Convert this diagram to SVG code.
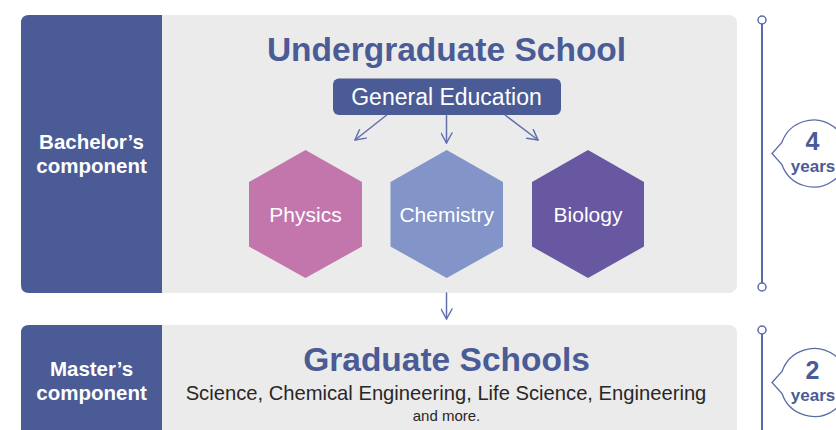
<svg xmlns="http://www.w3.org/2000/svg" width="836" height="430" viewBox="0 0 836 430">
<style>
.panel{fill:#4A5B96}
.bg{fill:#EBEBEB}
.side{font-family:"Liberation Sans",Arial,sans-serif;font-weight:bold;font-size:20.5px;fill:#FFFFFF;text-anchor:middle}
.title{font-family:"Liberation Sans",Arial,sans-serif;font-weight:bold;font-size:33.5px;fill:#4A5B96;text-anchor:middle}
.hex{font-family:"Liberation Sans",Arial,sans-serif;font-size:21px;fill:#FFFFFF;text-anchor:middle}
.sub{font-family:"Liberation Sans",Arial,sans-serif;font-size:20.2px;fill:#2A2627;text-anchor:middle}
.small{font-family:"Liberation Sans",Arial,sans-serif;font-size:15px;fill:#2A2627;text-anchor:middle}
.num{font-family:"Liberation Sans",Arial,sans-serif;font-weight:bold;font-size:25px;fill:#4A5B96;text-anchor:middle}
.yrs{font-family:"Liberation Sans",Arial,sans-serif;font-weight:bold;font-size:17px;fill:#4A5B96;text-anchor:middle}
.conn{fill:none;stroke:#6070AC;stroke-width:1.5;stroke-linecap:round;stroke-linejoin:round}
.tl{fill:none;stroke:#5A6BA8;stroke-width:2}
.dot{fill:#FFFFFF;stroke:#5A6BA8;stroke-width:1.5}
.bubble{fill:#FFFFFF;stroke:#5A6BA8;stroke-width:1.3}
</style>
<defs>
<marker id="ah" viewBox="0 0 12 12" refX="11" refY="6" markerWidth="12" markerHeight="12" markerUnits="userSpaceOnUse" orient="auto">
<path d="M1 0.5 L11 6 L1 11.5" fill="none" stroke="#6070AC" stroke-width="1.5" stroke-linecap="round" stroke-linejoin="round"/>
</marker>
</defs>

<g id="undergraduate">
<rect class="bg" x="21" y="15" width="716" height="278" rx="8"/>
<path class="panel" d="M162 15 L29 15 Q21 15 21 23 L21 285 Q21 293 29 293 L162 293 Z"/>
<text class="side" x="91.5" y="149">Bachelor’s</text>
<text class="side" x="91.5" y="173">component</text>
<text class="title" x="446.5" y="61">Undergraduate School</text>
</g>

<g id="general-education">
<rect class="panel" x="333" y="78.5" width="228" height="36.5" rx="6"/>
<text x="446.5" y="105" font-family="'Liberation Sans',Arial,sans-serif" font-size="23" fill="#FFFFFF" text-anchor="middle">General Education</text>
</g>

<g id="physics">
<polygon points="305.5,150 362,182 362,246.5 305.5,278 249,246.5 249,182" fill="#C376AC"/>
<text class="hex" x="305.5" y="222">Physics</text>
</g>
<g id="chemistry">
<polygon points="446.7,150 503,182 503,246.5 446.7,278 390.5,246.5 390.5,182" fill="#8294C8"/>
<text class="hex" x="446.7" y="222">Chemistry</text>
</g>
<g id="biology">
<polygon points="588,150 644,182 644,246.5 588,278 532,246.5 532,182" fill="#6858A2"/>
<text class="hex" x="588" y="222">Biology</text>
</g>

<g id="graduate">
<rect class="bg" x="21" y="325" width="716" height="130" rx="8"/>
<path class="panel" d="M162 325 L29 325 Q21 325 21 333 L21 455 L162 455 Z"/>
<text class="side" x="91.5" y="376">Master’s</text>
<text class="side" x="91.5" y="400">component</text>
<text class="title" x="446.5" y="371">Graduate Schools</text>
<text class="sub" x="446" y="400">Science, Chemical Engineering, Life Science, Engineering</text>
<text class="small" x="446.5" y="421">and more.</text>
</g>

<g id="timeline-4">
<line class="tl" x1="762" y1="24" x2="762" y2="283"/>
<circle class="dot" cx="762" cy="20" r="4"/>
<circle class="dot" cx="762" cy="287" r="4"/>
<path class="bubble" d="M781.9 142.5 A33.5 33.5 0 1 1 781.9 164.5 L772 153.5 Z"/>
<text class="num" x="812.5" y="150">4</text>
<text class="yrs" x="813" y="172">years</text>
</g>

<g id="timeline-2">
<line class="tl" x1="762" y1="334" x2="762" y2="432"/>
<circle class="dot" cx="762" cy="330" r="4"/>
<path class="bubble" d="M782 371.5 A34 34 0 1 1 782 393.5 L772 382.5 Z"/>
<text class="num" x="812.5" y="379">2</text>
<text class="yrs" x="813" y="401">years</text>
</g>

<g id="connectors">
<line class="conn" x1="386.7" y1="115" x2="355" y2="140" marker-end="url(#ah)"/>
<line class="conn" x1="446.5" y1="115" x2="446.5" y2="143" marker-end="url(#ah)"/>
<line class="conn" x1="505" y1="115" x2="538" y2="140" marker-end="url(#ah)"/>
<line class="conn" x1="446.5" y1="293" x2="446.5" y2="319" marker-end="url(#ah)"/>
</g>
</svg>
